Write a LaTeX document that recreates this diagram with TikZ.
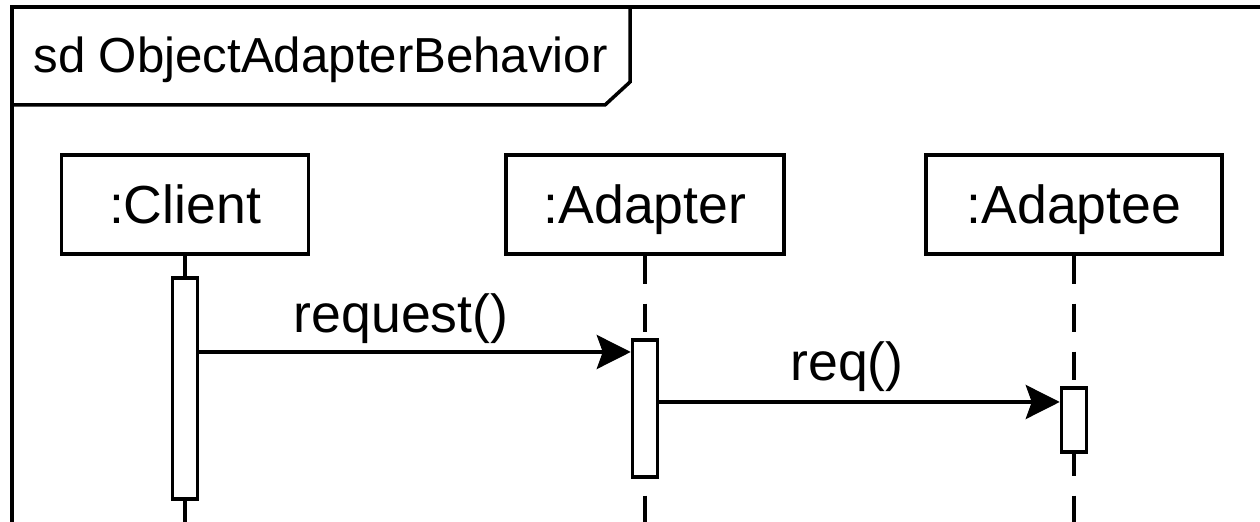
\documentclass[tikz,border=0pt]{standalone}
\usepackage{fontspec}
\setmainfont{Liberation Sans}
\usetikzlibrary{arrows.meta}

\tikzset{
	lifebox/.style={draw, line width=1.75pt, minimum width=#1, minimum height=49.5pt, inner sep=0pt, text height=19.2pt, text depth=0pt, font=\fontsize{26.8}{30}\selectfont},
	actbox/.style={draw, line width=1.75pt, fill=white, minimum width=12.5pt, minimum height=#1, inner sep=0pt},
	msg/.style={line width=1.75pt, -{Stealth[length=17pt,width=17pt,inset=3pt]}},
	lifeline/.style={line width=1.75pt, dash pattern=on 14pt off 10pt},
	lbl/.style={anchor=base, inner sep=0pt, font=\fontsize{26.8}{30}\selectfont}
}

\begin{document}
\begin{tikzpicture}[line cap=butt,line join=miter,x=0.5pt,y=-0.5pt]
				\useasboundingbox (0,0) rectangle (1260,522);
				\clip (0,0) rectangle (1260,522);
				% frame and its name tab
				\draw [line width=1.75pt] (1300,7) -| (12,560);
				\draw [line width=1.75pt] (12,105) -- (605,105) -- (630,82) -- (630,7);
				\node [lbl, anchor=base west, font=\fontsize{24.6}{28}\selectfont] (title) at (33,73) {sd ObjectAdapterBehavior};
				% lifeline heads
				\node [lifebox=123.5pt] (client) at (185,204.5) {:Client};
				\node [lifebox=139pt] (adapter) at (645,204.5) {:Adapter};
				\node [lifebox=148pt] (adaptee) at (1074,204.5) {:Adaptee};
				\coordinate (bottom) at (0,530);
				\draw [line width=1.75pt] (client.south) -- (client.south |- bottom);
				\draw [lifeline] (adapter.south) -- (adapter.south |- bottom);
				\draw [lifeline] (adaptee.south) -- (adaptee.south |- bottom);
				% activations
				\node [actbox=110.5pt] (client-act) at (185,388.5) {};
				\node [actbox=68.5pt] (adapter-act) at (645,408.5) {};
				\node [actbox=32pt] (adaptee-act) at (1074,420) {};
				% messages
				\coordinate (m1) at (0,352);
				\coordinate (m2) at (0,402);
				\draw [msg] (client-act.east |- m1) -- (adapter-act.west |- m1);
				\node [lbl] (request) at (401,333) {request()};
				\draw [msg] (adapter-act.east |- m2) -- (adaptee-act.west |- m2);
				\node [lbl] (req) at (847,381) {req()};
\end{tikzpicture}
\end{document}
